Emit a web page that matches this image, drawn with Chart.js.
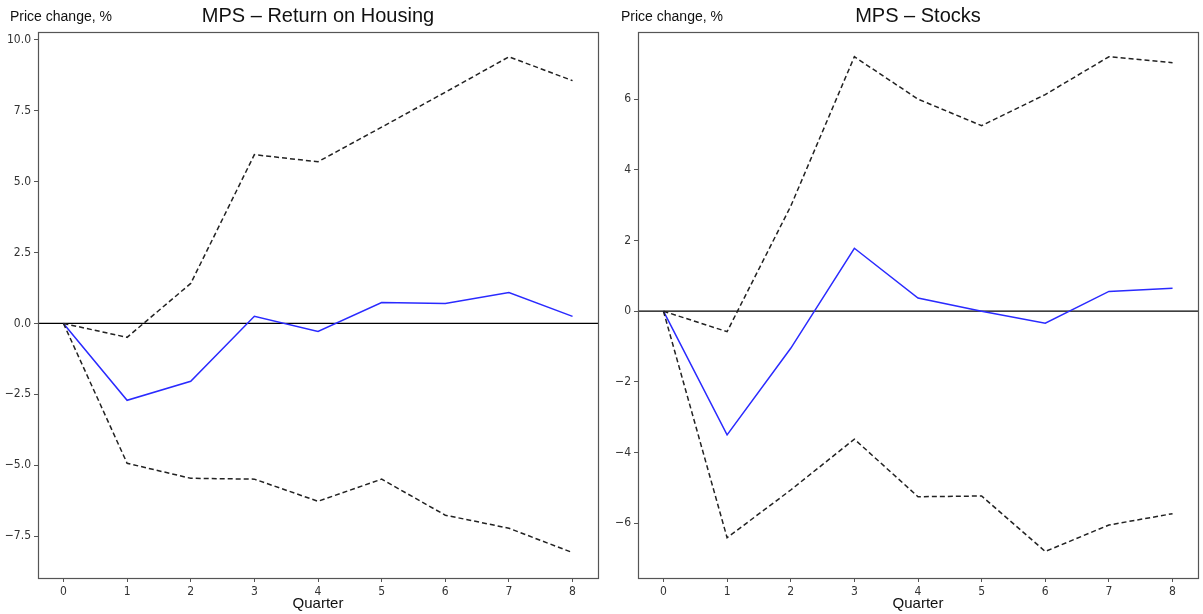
<!DOCTYPE html>
<html>
<head>
<meta charset="utf-8">
<script src="https://cdn.jsdelivr.net/npm/chart.js@4/dist/chart.umd.min.js"></script>
<style>
  html, body { margin: 0; padding: 0; background: #fff; }
  body { width: 1203px; height: 614px; position: relative; overflow: hidden; font-family: "Liberation Sans", Arial, sans-serif; }
  .box { position: absolute; top: 0; height: 614px; }
  .lbl { position: absolute; color: #111; white-space: nowrap; }
  .title { font-size: 20px; text-align: center; top: 4px; }
  .ylab { font-size: 14px; top: 8px; }
  .xlab { font-size: 15px; text-align: center; top: 594px; }
</style>
</head>
<body>
<div class="box" style="left:0;width:600px;"><canvas id="c1"></canvas></div>
<div class="box" style="left:600px;width:603px;"><canvas id="c2"></canvas></div>
<div class="lbl ylab" style="left:10px;">Price change, %</div>
<div class="lbl title" style="left:38px;width:560px;">MPS – Return on Housing</div>
<div class="lbl xlab" style="left:38px;width:560px;">Quarter</div>
<div class="lbl ylab" style="left:621px;">Price change, %</div>
<div class="lbl title" style="left:638px;width:560px;">MPS – Stocks</div>
<div class="lbl xlab" style="left:638px;width:560px;">Quarter</div>
<script>
const quarters = [0, 1, 2, 3, 4, 5, 6, 7, 8];

const housingMean  = [0, -2.71, -2.04, 0.25, -0.28, 0.74, 0.70, 1.09, 0.25];
const housingUpper = [0, -0.49, 1.41, 5.95, 5.70, 6.92, 8.15, 9.40, 8.56];
const housingLower = [0, -4.93, -5.46, -5.49, -6.27, -5.49, -6.76, -7.22, -8.08];
const housingYTicks = [-7.5, -5, -2.5, 0, 2.5, 5, 7.5, 10];

const stocksMean  = [0, -3.50, -1.05, 1.78, 0.37, 0.00, -0.34, 0.56, 0.65];
const stocksUpper = [0, -0.58, 2.97, 7.20, 6.00, 5.25, 6.13, 7.20, 7.03];
const stocksLower = [0, -6.41, -5.06, -3.62, -5.25, -5.23, -6.80, -6.05, -5.73];
const stocksYTicks = [-6, -4, -2, 0, 2, 4, 6];

function pts(arr) { return quarters.map((q, i) => ({ x: q, y: arr[i] })); }

const framePlugin = {
  id: 'frame',
  beforeDatasetsDraw(chart) {
    const a = chart.chartArea, ctx = chart.ctx;
    const y0 = chart.scales.y.getPixelForValue(0);
    ctx.save();
    ctx.strokeStyle = '#000';
    ctx.lineWidth = 1.3;
    ctx.beginPath();
    ctx.moveTo(a.left, y0);
    ctx.lineTo(a.right, y0);
    ctx.stroke();
    ctx.restore();
  },
  afterDraw(chart) {
    const a = chart.chartArea, ctx = chart.ctx;
    ctx.save();
    ctx.strokeStyle = '#555';
    ctx.lineWidth = 1.2;
    ctx.strokeRect(Math.round(a.left) + 0.5, Math.round(a.top) + 0.5, Math.round(a.right - a.left), Math.round(a.bottom - a.top));
    ctx.restore();
  }
};

function fmtMinus(s) { return String(s).replace('-', '\u2212'); }

const tickFont = { family: "'DejaVu Sans Condensed', 'DejaVu Sans', sans-serif", size: 12 };

function makeChart(id, mean, upper, lower, yTicks, yMin, yMax, decimals, yWidth, padRight) {
  const dash = { borderColor: '#222', borderWidth: 1.5, borderDash: [5, 3], pointRadius: 0, fill: false, tension: 0 };
  new Chart(document.getElementById(id), {
    type: 'line',
    data: {
      datasets: [
        Object.assign({ label: 'upper', data: pts(upper) }, dash),
        Object.assign({ label: 'lower', data: pts(lower) }, dash),
        { label: 'mean', data: pts(mean), borderColor: '#2a2aff', borderWidth: 1.5, pointRadius: 0, fill: false, tension: 0 }
      ]
    },
    options: {
      responsive: false,
      maintainAspectRatio: false,
      animation: false,
      layout: { padding: { top: 32, right: padRight, left: 0, bottom: 0 } },
      plugins: { legend: { display: false }, tooltip: { enabled: false }, title: { display: false } },
      scales: {
        x: {
          type: 'linear', min: -0.4, max: 8.4,
          afterBuildTicks: s => { s.ticks = quarters.map(v => ({ value: v })); },
          afterFit: s => { s.height = 36; },
          grid: { display: true, drawOnChartArea: false, drawTicks: true, tickLength: 4, color: '#555' },
          border: { display: false },
          ticks: { color: '#333', font: tickFont, padding: 3, maxRotation: 0, autoSkip: false,
                   callback: v => String(v) }
        },
        y: {
          type: 'linear', min: yMin, max: yMax,
          afterBuildTicks: s => { s.ticks = yTicks.map(v => ({ value: v })); },
          afterFit: s => { s.width = yWidth; },
          grid: { display: true, drawOnChartArea: false, drawTicks: true, tickLength: 4, color: '#555' },
          border: { display: false },
          ticks: { color: '#333', font: tickFont, padding: 3, autoSkip: false,
                   callback: v => fmtMinus(Number(v).toFixed(decimals)) }
        }
      }
    },
    plugins: [framePlugin]
  });
}

const c1 = document.getElementById('c1'); c1.width = 600; c1.height = 614;
const c2 = document.getElementById('c2'); c2.width = 603; c2.height = 614;
makeChart('c1', housingMean, housingUpper, housingLower, housingYTicks, -8.975, 10.275, 1, 38, 2);
makeChart('c2', stocksMean, stocksUpper, stocksLower, stocksYTicks, -7.55, 7.90, 0, 38, 5);
</script>
</body>
</html>
